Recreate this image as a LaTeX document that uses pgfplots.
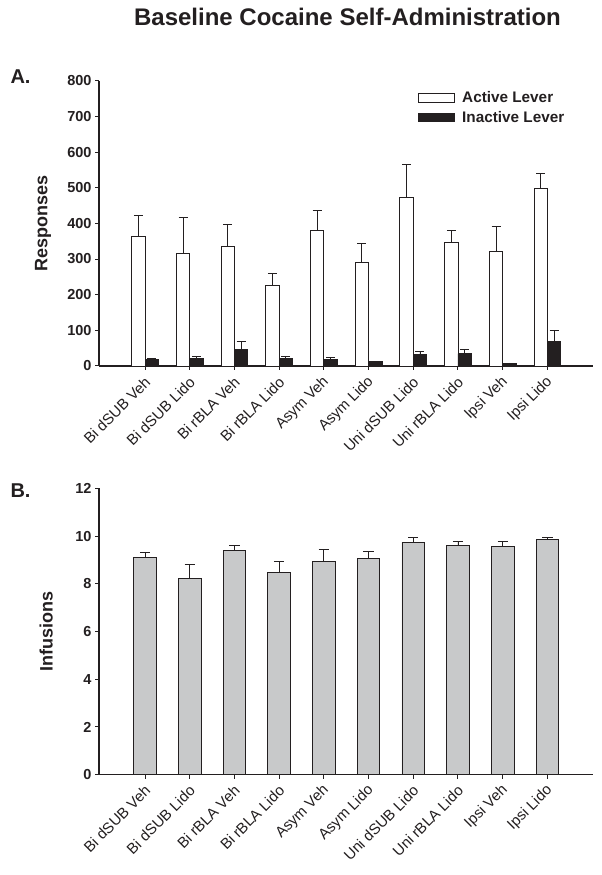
\documentclass[border=0pt]{standalone}
\usepackage{fontspec}
\setmainfont{Liberation Sans}
\usepackage{pgfplots}
\usepackage{pgfplotstable}
\pgfplotsset{compat=1.18}
\definecolor{ink}{RGB}{35,31,32}
\definecolor{bargray}{RGB}{200,201,202}

% responses per group (mean, upper SEM)
\pgfplotstableread{
x act acte inact inacte
0 364 59 17 3
1 315 101 20 7
2 335 63 45 25
3 226 34 20 8
4 381 54 17 6
5 290 53 12 2
6 474 92 31 11
7 346 34 35 11
8 322 68 7 1.5
9 497 44 68 32
}\responses

% infusions per group
\pgfplotstableread{
x inf infe
0 9.09 0.24
1 8.24 0.58
2 9.41 0.20
3 8.48 0.46
4 8.94 0.49
5 9.05 0.31
6 9.75 0.19
7 9.60 0.16
8 9.57 0.21
9 9.86 0.10
}\infusions

\pgfplotsset{
  panel/.style={
    scale only axis, width=494pt,
    xmin=-1.03, xmax=10.02, ymin=0,
    axis lines*=left,
    axis line style={line width=1.2pt, ink},
    tick align=outside, major tick length=4pt,
    every tick/.style={line width=1pt, ink},
    xtick={0,...,9},
    xticklabels={Bi dSUB Veh, Bi dSUB Lido, Bi rBLA Veh, Bi rBLA Lido, Asym Veh,
      Asym Lido, Uni dSUB Lido, Uni rBLA Lido, Ipsi Veh, Ipsi Lido},
    xticklabel style={xshift=5pt, yshift=-7pt, rotate=45, anchor=east,
      font=\fontsize{15}{17}\selectfont, text=ink},
    yticklabel style={font=\bfseries\fontsize{14.5}{16}\selectfont, text=ink},
    /pgf/number format/assume math mode=true,
    ylabel style={font=\bfseries\fontsize{18}{20}\selectfont, text=ink, anchor=center},
  },
  errs/.style={error bars/.cd, y dir=plus, y explicit,
    error bar style={line width=0.9pt, ink},
    error mark options={rotate=90, mark size=#1, line width=0.9pt, ink}},
}

\begin{document}
\begin{tikzpicture}
\useasboundingbox (0,0) rectangle (602pt,875pt);

\node[font=\bfseries\fontsize{24}{27}\selectfont, text=ink, anchor=base] at (347.5pt,849pt)
  {Baseline Cocaine Self-Administration};
\node[font=\bfseries\fontsize{20}{24}\selectfont, text=ink, anchor=base west] at (7pt,791pt) {A.};
\node[font=\bfseries\fontsize{20}{24}\selectfont, text=ink, anchor=base west] at (7pt,377pt) {B.};

% A. responses
\begin{axis}[panel, at={(99pt,509pt)}, anchor=south west, height=285.3pt,
  ymax=800, ytick={0,100,...,800},
  ybar=0pt, bar width=13.4pt,
  ylabel={Responses},
  ylabel style={at={(axis description cs:-0.113,0.5)}},
  legend style={at={(axis description cs:0.646,0.970)}, anchor=north west,
    draw=none, fill=none, inner sep=0pt, row sep=3pt,
    font=\bfseries\fontsize{15.3}{17}\selectfont, text=ink,
    /tikz/every odd column/.append style={column sep=5pt}},
  legend cell align=left,
  legend image code/.code={\draw[#1, line width=0.9pt] (0pt,-4.2pt) rectangle (36pt,4.2pt);},
]
\addplot[fill=white, draw=ink, line width=0.9pt, errs=4.5pt]
  table[x=x, y=act, y error=acte] {\responses};
\addplot[fill=ink, draw=ink, line width=0.9pt, errs=4.5pt]
  table[x=x, y=inact, y error=inacte] {\responses};
\legend{Active Lever, Inactive Lever}
\end{axis}

% B. infusions
\begin{axis}[panel, at={(99pt,100.3pt)}, anchor=south west, height=286.2pt,
  ymax=12, ytick={0,2,...,12},
  ybar, bar width=22.6pt,
  ylabel={Infusions},
  ylabel style={at={(axis description cs:-0.107,0.5)}},
]
\addplot[fill=bargray, draw=ink, line width=0.9pt, errs=5.2pt]
  table[x=x, y=inf, y error=infe] {\infusions};
\end{axis}
\end{tikzpicture}
\end{document}
